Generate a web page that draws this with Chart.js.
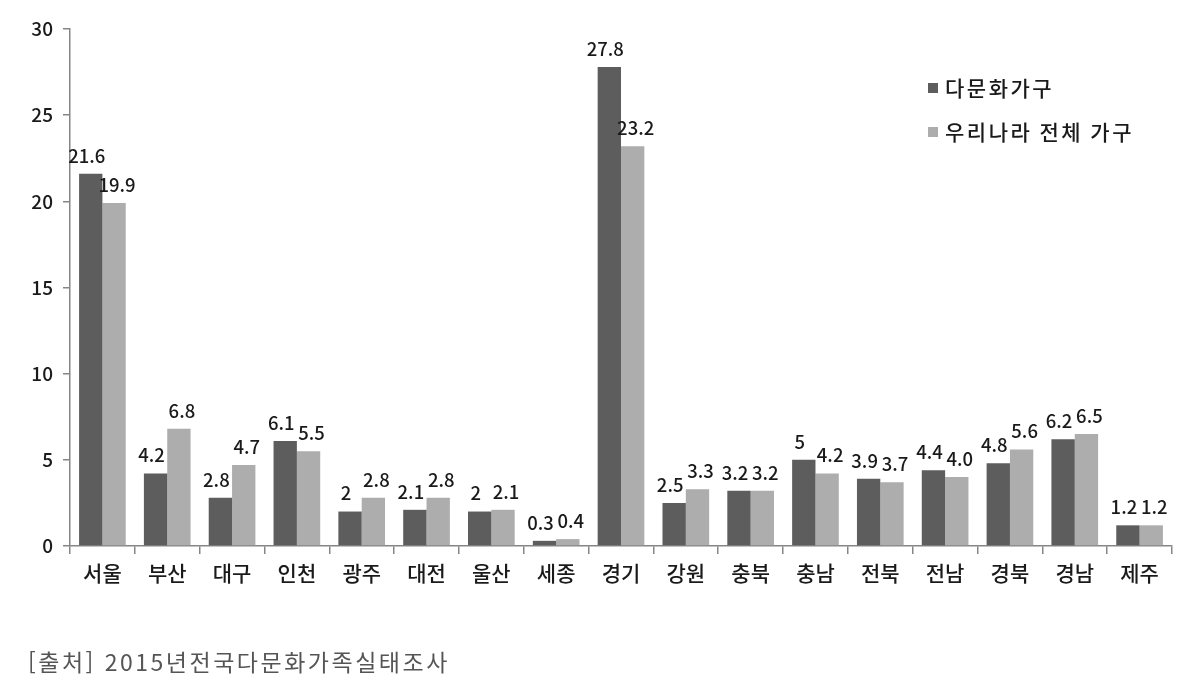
<!DOCTYPE html>
<html lang="ko">
<head>
<meta charset="utf-8">
<script src="https://cdn.jsdelivr.net/npm/chart.js@4"></script>
<style>
  html,body{margin:0;padding:0;background:#fff;}
  #wrap{position:relative;width:1186px;height:685px;}
  #src{position:absolute;left:28px;top:644px;font:400 23px "Noto Sans CJK KR",sans-serif;color:#555;letter-spacing:2.5px;}
</style>
</head>
<body>
<div id="wrap">
  <canvas id="regionChart" width="1186" height="685"></canvas>
  <div id="src">[출처] 2015년전국다문화가족실태조사</div>
</div>
<script>
/* ── data ── */
const REGIONS = ['서울','부산','대구','인천','광주','대전','울산','세종','경기','강원','충북','충남','전북','전남','경북','경남','제주'];
const MULTI   = [21.6,4.2,2.8,6.1,2,2.1,2,0.3,27.8,2.5,3.2,5,3.9,4.4,4.8,6.2,1.2];
const ALL_HH  = [19.9,6.8,4.7,5.5,2.8,2.8,2.1,0.4,23.2,3.3,3.2,4.2,3.7,4.0,5.6,6.5,1.2];
const ALL_LBL = ['19.9','6.8','4.7','5.5','2.8','2.8','2.1','0.4','23.2','3.3','3.2','4.2','3.7','4.0','5.6','6.5','1.2'];
const Y_TICKS = [0,5,10,15,20,25,30];

const FONT = '"Noto Sans CJK KR", sans-serif';
const AXIS = '#868686';

/* ── value labels above bars ── */
const valueLabels = {
  id:'valueLabels',
  afterDatasetsDraw(chart) {
    const ctx = chart.ctx;
    ctx.save();
    ctx.font = '500 18.5px ' + FONT;
    ctx.fillStyle = '#1a1a1a';
    ctx.textAlign = 'center';
    ctx.textBaseline = 'bottom';
    chart.data.datasets.forEach((ds, di) => {
      const meta = chart.getDatasetMeta(di);
      const shift = di === 0 ? -4 : 3;
      meta.data.forEach((bar, i) => {
        const txt = ds.labelsText ? ds.labelsText[i] : String(ds.data[i]);
        ctx.fillText(txt, bar.x + shift, bar.y - 9);
      });
    });
    ctx.restore();
  }
};

/* ── legend, top right ── */
const sideLegend = {
  id:'sideLegend',
  afterDraw(chart) {
    const ctx = chart.ctx;
    ctx.save();
    ctx.font = '500 21px ' + FONT;
    ctx.letterSpacing = '2.5px';
    ctx.textBaseline = 'middle';
    chart.data.datasets.forEach((ds, i) => {
      const y = 88 + i * 44;
      ctx.fillStyle = ds.backgroundColor;
      ctx.fillRect(928, y - 5, 10, 10);
      ctx.fillStyle = '#1a1a1a';
      ctx.fillText(ds.label, 945, y);
    });
    ctx.restore();
  }
};

function buildChart() {
  const ctx = document.getElementById('regionChart').getContext('2d');
  new Chart(ctx, {
    type:'bar',
    data:{
      labels: REGIONS,
      datasets:[
        { label:'다문화가구', data:MULTI, backgroundColor:'#5d5d5d', categoryPercentage:0.72, barPercentage:1 },
        { label:'우리나라 전체 가구', data:ALL_HH, labelsText:ALL_LBL, backgroundColor:'#adadad', categoryPercentage:0.72, barPercentage:1 }
      ]
    },
    options:{
      responsive:false,
      animation:false,
      layout:{ padding:{ top:29, right:14, bottom:79, left:0 } },
      plugins:{ legend:{display:false}, tooltip:{enabled:false} },
      scales:{
        x:{
          grid:{ drawOnChartArea:false, color:AXIS, tickLength:8, lineWidth:1.5 },
          border:{ color:AXIS, width:1.5 },
          ticks:{ color:'#1a1a1a', font:{family:FONT, size:21, weight:'500'}, padding:6, maxRotation:0, autoSkip:false },
          afterFit: s => { s.height = 60; }
        },
        y:{
          min:0, max:30,
          afterBuildTicks: s => { s.ticks = Y_TICKS.map(v => ({value:v})); },
          grid:{ drawOnChartArea:false, color:AXIS, tickLength:7, lineWidth:1.5 },
          border:{ color:AXIS, width:1.5 },
          ticks:{ color:'#1a1a1a', font:{family:FONT, size:19, weight:'500'}, padding:10 },
          afterFit: s => { s.width = 70; }
        }
      }
    },
    plugins:[valueLabels, sideLegend]
  });
}

window.addEventListener('DOMContentLoaded', buildChart);
</script>
</body>
</html>
